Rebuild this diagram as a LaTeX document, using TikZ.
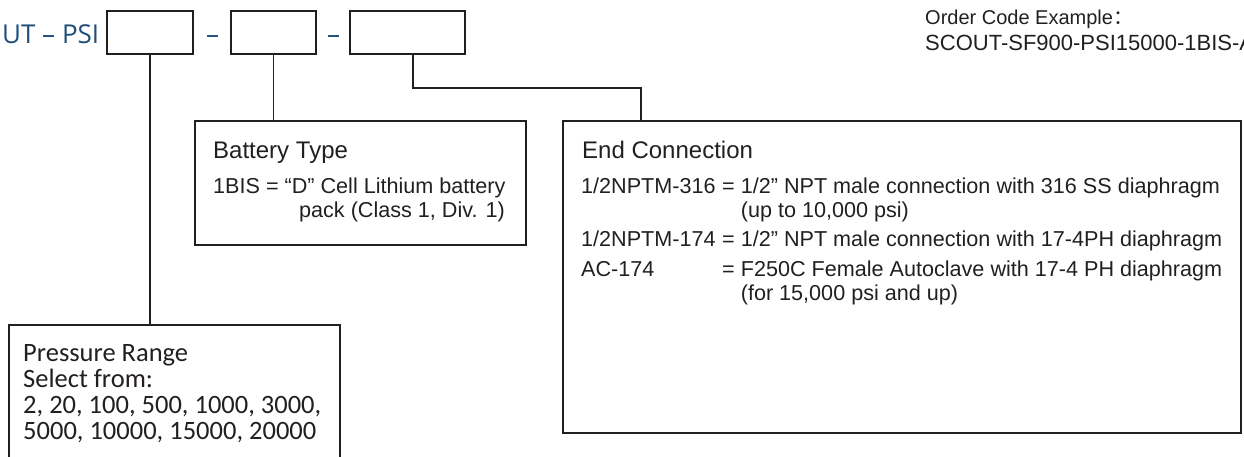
\documentclass[tikz,border=0pt]{standalone}
\usepackage{fontspec}
\setmainfont{Liberation Sans}
\newfontfamily\headfont{Open Sans}
\newfontfamily\rangefont{Carlito}
\newfontfamily\cjk{Noto Sans CJK SC}
\definecolor{codeblue}{HTML}{1F4E79}
\definecolor{ink}{HTML}{231F20}
\begin{document}
\begin{tikzpicture}[x=1pt, y=-1pt,
  codebox/.style={draw=ink, line width=2pt, minimum width=#1, minimum height=43pt, inner sep=0pt},
  infobox/.style={draw=ink, line width=2pt, inner sep=0pt},
  leader/.style={draw=ink, line width=1.8pt},
  modeltxt/.style={anchor=base west, inner sep=0pt, text=codeblue, font=\headfont\fontsize{26}{30}\selectfont},
  boxtitle/.style={anchor=base west, inner sep=0pt, text=ink, font=\fontsize{24}{28}\selectfont},
  bodytxt/.style={anchor=base west, inner sep=0pt, text=ink, font=\fontsize{21.6}{26}\selectfont},
  rangetxt/.style={anchor=base west, inner sep=0pt, text=ink, font=\rangefont\fontsize{26.5}{30}\selectfont}]
  \useasboundingbox (0,0) rectangle (1244,456);

  % Model code line
  \node[modeltxt] (model) at (2,43) {UT – PSI};
  \node[codebox=86pt] (prcode) at (150,32.5) {};
  \node[modeltxt, anchor=base] (dash1) at (212.5,43) {–};
  \node[codebox=85pt] (btcode) at (273.5,32.5) {};
  \node[modeltxt, anchor=base] (dash2) at (333.5,43) {–};
  \node[codebox=115pt] (eccode) at (407.5,32.5) {};

  % Order code example
  \node[bodytxt, font=\fontsize{20}{24}\selectfont] (ordtitle) at (925,24) {Order Code Example\cjk{：}};
  \node[bodytxt, font=\fontsize{22}{26}\selectfont] (ordcode) at (925,50) {SCOUT-SF900-PSI15000-1BIS-A};

  % Pressure range
  \node[infobox, minimum width=331pt, minimum height=145pt] (prbox) at (174.5,397.5) {};
  \node[rangetxt] (pr1) at (23,361) {Pressure Range};
  \node[rangetxt] (pr2) at (23,387) {Select from:};
  \node[rangetxt] (pr3) at (23,413) {2, 20, 100, 500, 1000, 3000,};
  \node[rangetxt] (pr4) at (23,439) {5000, 10000, 15000, 20000};

  % Battery type
  \node[infobox, minimum width=331pt, minimum height=124pt] (btbox) at (360.5,183) {};
  \node[boxtitle] (bt0) at (213,158) {Battery Type};
  \node[bodytxt] (bt1) at (213,193) {1BIS = “D” Cell Lithium battery};
  \node[bodytxt, anchor=base east] (bt2) at (505,217) {pack (Class 1, Div. 1)};

  % End connection
  \node[infobox, minimum width=678pt, minimum height=312pt] (ecbox) at (902,277) {};
  \node[boxtitle] (ec0) at (582,158) {End Connection};
  \node[bodytxt] (ec1k) at (581,193) {1/2NPTM-316};
  \node[bodytxt] (ec1v) at (722,193) {= 1/2” NPT male connection with 316 SS diaphragm};
  \node[bodytxt] (ec2v) at (722,217) {\phantom{= }(up to 10,000 psi)};
  \node[bodytxt] (ec3k) at (581,246) {1/2NPTM-174};
  \node[bodytxt] (ec3v) at (722,246) {= 1/2” NPT male connection with 17-4PH diaphragm};
  \node[bodytxt] (ec4k) at (581,276) {AC-174};
  \node[bodytxt] (ec4v) at (722,276) {= F250C Female Autoclave with 17-4 PH diaphragm};
  \node[bodytxt] (ec5v) at (722,300) {\phantom{= }(for 15,000 psi and up)};

  % Leaders
  \draw[leader] (prcode.south) -- (prcode.south |- prbox.north);
  \draw[leader] (btcode.south) -- (btcode.south |- btbox.north);
  \coordinate (ecbend) at (641,88);
  \draw[leader] ([xshift=5.5pt]eccode.south) |- (ecbend) -- (ecbend |- ecbox.north);
\end{tikzpicture}
\end{document}
